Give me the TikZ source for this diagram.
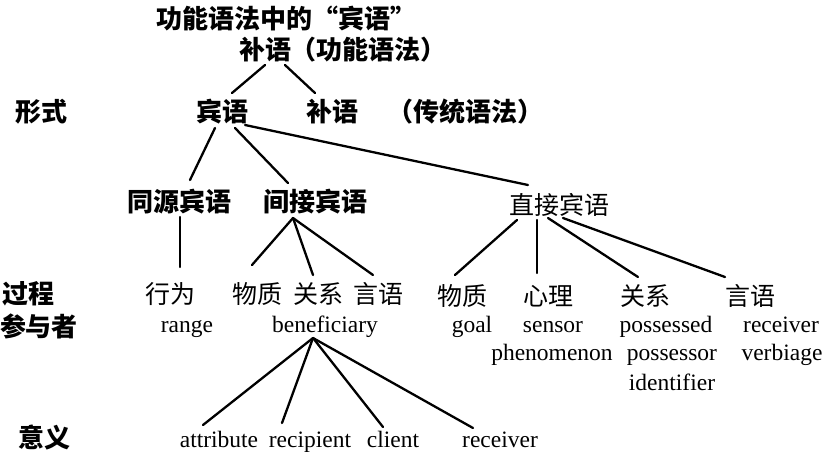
\documentclass[tikz,border=0pt]{standalone}
\usepackage{fontspec}
\setmainfont{Liberation Serif}
\newfontfamily\cjk{Noto Sans CJK SC}
\usetikzlibrary{calc}
\tikzset{
  hb/.style={font=\cjk\bfseries\fontsize{26}{30}\selectfont, inner sep=0pt},
  hr/.style={font=\cjk\fontsize{25}{30}\selectfont, inner sep=0pt},
  en/.style={font=\fontsize{23.5}{28}\selectfont, inner sep=0pt, anchor=base},
  ln/.style={line width=2.3pt, line cap=round}
}
\begin{document}
\begin{tikzpicture}[x=1pt,y=-1pt]
\useasboundingbox[fill=white] (0,0) rectangle (825,455);
% titles
\node[hb] (title) at (286,19) {功能语法中的“宾语”};
\node[hb] (bu) at (265,50) {补语};
\node[hb, anchor=west] (gn) at (290,50) {（功能语法）};
% form row
\node[hb] (xs) at (42,112) {形式};
\node[hb] (bin) at (222,112) {宾语};
\node[hb] (bu2) at (332,112) {补语};
\node[hb] (ct) at (465,112) {（传统语法）};
% object types
\node[hb] (ty) at (179,202) {同源宾语};
\node[hb] (jj) at (315,202) {间接宾语};
\node[hr] (zj) at (559,205) {直接宾语};
% process row
\node[hb] (gc) at (28,294) {过程};
\node[hr] (xw) at (170,294) {行为};
\node[hr] (wz1) at (257,294) {物质};
\node[hr] (gx1) at (318,294) {关系};
\node[hr] (yy1) at (378,294) {言语};
\node[hr] (wz2) at (462,296) {物质};
\node[hr] (xl) at (548,296) {心理};
\node[hr] (gx2) at (645,296) {关系};
\node[hr] (yy2) at (750,296) {言语};
% participants
\node[hb] (cyz) at (39,326) {参与者};
\node[en] (range) at (187,332) {range};
\node[en] (ben) at (325,332) {beneficiary};
\node[en] (goal) at (472,332) {goal};
\node[en] (sensor) at (553,332) {sensor};
\node[en] (poss) at (666,332) {possessed};
\node[en] (rec1) at (781,332) {receiver};
\node[en] (phen) at (552,360) {phenomenon};
\node[en] (possr) at (672,360) {possessor};
\node[en] (verb) at (782,360) {verbiage};
\node[en] (ident) at (672,390) {identifier};
% meaning
\node[hb] (yy) at (45,437) {意义};
\node[en] (attr) at (219,447) {attribute};
\node[en] (recip) at (310,447) {recipient};
\node[en] (client) at (393,447) {client};
\node[en] (rec2) at (500,447) {receiver};
% connectors
\draw[ln] ($(bu)+(0,15)$) -- ($(bin)+(10,-19)$);
\draw[ln] ($(bu)+(20,15)$) -- ($(bu2)+(-17,-19)$);
\draw[ln] ($(bin)+(-7,16)$) -- ($(ty)+(11,-22)$);
\draw[ln] ($(bin)+(13,16)$) -- ($(jj)+(-27,-19)$);
\draw[ln] ($(bin)+(23,13)$) -- ($(zj)+(-31,-20)$);
\draw[ln] ($(ty)+(1,15)$) -- ($(xw)+(10,-27)$);
\draw[ln] ($(jj)+(-22,16)$) -- ($(wz1)+(-5,-29)$);
\draw[ln] ($(jj)+(-22,16)$) -- ($(gx1)+(-5,-19)$);
\draw[ln] ($(jj)+(-22,16)$) -- ($(yy1)+(-5,-19)$);
\draw[ln] ($(zj)+(-42,15)$) -- ($(wz2)+(-7,-21)$);
\draw[ln] ($(zj)+(-22,15)$) -- ($(xl)+(-11,-23)$);
\draw[ln] ($(zj)+(-11,13)$) -- ($(gx2)+(-7,-19)$);
\draw[ln] ($(zj)+(4,13)$) -- ($(yy2)+(-25,-19)$);
\draw[ln] ($(ben.base)+(-12,6)$) -- ($(attr.base)+(-16,-22)$);
\draw[ln] ($(ben.base)+(-12,6)$) -- ($(recip.base)+(-28,-24)$);
\draw[ln] ($(ben.base)+(-12,6)$) -- ($(client.base)+(-10,-20)$);
\draw[ln] ($(ben.base)+(-12,6)$) -- ($(rec2.base)+(-27,-19)$);
\end{tikzpicture}
\end{document}
